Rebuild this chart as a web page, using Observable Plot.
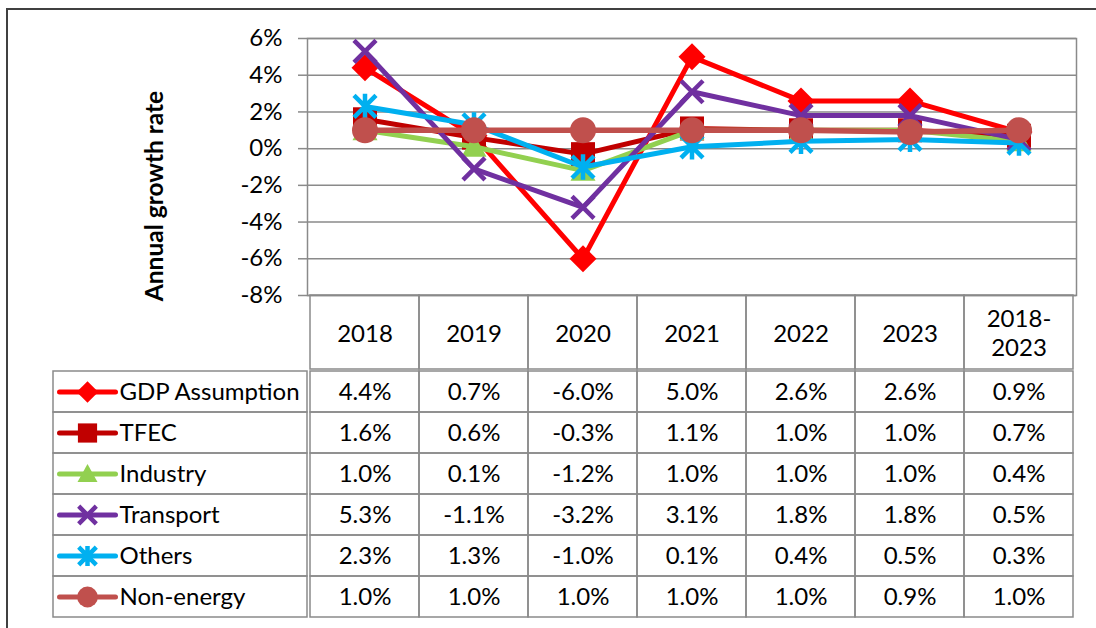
<!DOCTYPE html>
<html><head><meta charset="utf-8">
<script src="https://cdn.jsdelivr.net/npm/d3@7"></script>
<script src="https://cdn.jsdelivr.net/npm/@observablehq/plot@0.6"></script>
<style>
body{margin:0;background:#fff;font-family:Lato,sans-serif;}
#wrap{position:relative;width:1096px;height:628px;overflow:hidden;background:#fff;}
#frame{position:absolute;left:6px;top:8px;width:1200px;height:700px;border-top:2px solid #404040;border-left:2px solid #404040;}
.part{position:absolute;}
.part svg{display:block;}
</style></head><body>
<div id="wrap"><div id="frame"></div></div>
<script>
// ---- data ----
const columns = ["2018","2019","2020","2021","2022","2023","2018-2023"];
const seriesNames = ["GDP Assumption","TFEC","Industry","Transport","Others","Non-energy"];
const gdp       = [4.4, 0.7, -6.0, 5.0, 2.6, 2.6, 0.9];
const tfec      = [1.6, 0.6, -0.3, 1.1, 1.0, 1.0, 0.7];
const industry  = [1.0, 0.1, -1.2, 1.0, 1.0, 1.0, 0.4];
const transport = [5.3, -1.1, -3.2, 3.1, 1.8, 1.8, 0.5];
const others    = [2.3, 1.3, -1.0, 0.1, 0.4, 0.5, 0.3];
const nonEnergy = [1.0, 1.0, 1.0, 1.0, 1.0, 0.9, 1.0];
const yTicks = [-8, -6, -4, -2, 0, 2, 4, 6];
const yTitle = "Annual growth rate";

// ---- styles ----
const colors = ["#FF0000", "#C00000", "#92D050", "#7030A0", "#00B0F0", "#C0504D"];
const R = s => Math.sqrt(s / Math.PI);
const diamondSym = {draw(c, s){const r = R(s); c.moveTo(0,-r); c.lineTo(r,0); c.lineTo(0,r); c.lineTo(-r,0); c.closePath();}};
const squareSym = {draw(c, s){const r = R(s); c.rect(-r,-r,2*r,2*r);}};
const triangleSym = {draw(c, s){const r = R(s); c.moveTo(0,-r); c.lineTo(r,r*0.8); c.lineTo(-r,r*0.8); c.closePath();}};
const timesSym = {draw(c, s){const r = R(s); c.moveTo(-r,-r); c.lineTo(r,r); c.moveTo(r,-r); c.lineTo(-r,r);}};
const starSym = {draw(c, s){const r = R(s); c.moveTo(-r,-r); c.lineTo(r,r); c.moveTo(r,-r); c.lineTo(-r,r); c.moveTo(0,-r*1.15); c.lineTo(0,r*1.15);}};
const circleSym = {draw(c, s){const r = R(s); c.moveTo(r,0); c.arc(0,0,r,0,2*Math.PI);}};
const hlineSym = {draw(c, s){const r = R(s); c.moveTo(-r,0); c.lineTo(r,0);}};
const markers = [
  {sym: diamondSym, r: 13.5, filled: true},
  {sym: squareSym, r: 12, filled: true},
  {sym: triangleSym, r: 12.5, filled: true},
  {sym: timesSym, r: 11, filled: false},
  {sym: starSym, r: 11, filled: false},
  {sym: circleSym, r: 13, filled: true}
];
const lineWidths = [5, 5, 5, 5, 5, 5.5];

const seriesValues = [gdp, tfec, industry, transport, others, nonEnergy];
const rows = [];
seriesValues.forEach((vals, si) => vals.forEach((v, ci) => rows.push({series: seriesNames[si], col: columns[ci], v})));

const font = {fontFamily: "Lato, sans-serif", fontSize: "24px", color: "#000", background: "transparent", overflow: "visible"};
const grid = "#8a8a8a";

function dotOpts(i, extra) {
  const m = markers[i];
  return Object.assign({symbol: m.sym, r: m.r,
    fill: m.filled ? colors[i] : "none",
    stroke: m.filled ? "none" : colors[i],
    strokeWidth: m.filled ? 0 : 4.5, strokeLinecap: "butt"}, extra);
}

// ---- chart ----
const seriesMarks = [];
seriesNames.forEach((name, i) => {
  const d = rows.filter(r => r.series === name);
  seriesMarks.push(Plot.line(d, {x: "col", y: "v", stroke: colors[i], strokeWidth: lineWidths[i], strokeLinejoin: "round"}));
  seriesMarks.push(Plot.dot(d, dotOpts(i, {x: "col", y: "v"})));
});

const chart = Plot.plot({
  width: 1096, height: 295,
  marginTop: 38, marginBottom: 0, marginLeft: 307, marginRight: 20,
  style: font,
  x: {type: "band", domain: columns, padding: 0, axis: null},
  y: {domain: [-8, 6]},
  marks: [
    Plot.gridY(yTicks, {stroke: grid, strokeOpacity: 1, strokeWidth: 1.5}),
    Plot.frame({stroke: grid, strokeWidth: 1.5}),
    Plot.axisY(yTicks, {tickSize: 9, tickPadding: 16, tickFormat: d => d + "%", stroke: grid, strokeWidth: 1.5, fill: "#000", label: null, fontSize: 24}),
    Plot.text([yTitle], {frameAnchor: "left", textAnchor: "middle", rotate: -90, dx: -152, dy: 29, fontWeight: "bold", fontSize: 24.5, fill: "#000"}),
    ...seriesMarks
  ]
});

// ---- table header ----
const header = Plot.plot({
  width: 1096, height: 74,
  marginTop: 0, marginBottom: 0, marginLeft: 307, marginRight: 20,
  style: font,
  x: {type: "band", domain: columns, padding: 0, axis: null},
  marks: [
    Plot.cell(columns, {x: d => d, stroke: grid, strokeWidth: 1.5, fill: "none"}),
    Plot.text(columns, {x: d => d, text: d => d.replace("-", "-\n"), lineHeight: 1.2, fontSize: 24, fill: "#000"})
  ]
});

// ---- table values ----
const values = Plot.plot({
  width: 1096, height: 333,
  marginTop: 74, marginBottom: 10, marginLeft: 307, marginRight: 20,
  style: font,
  x: {type: "band", domain: columns, padding: 0, axis: null},
  y: {type: "band", domain: seriesNames, padding: 0, axis: null},
  marks: [
    Plot.cell(rows, {x: "col", y: "series", stroke: grid, strokeWidth: 1.5, fill: "none"}),
    Plot.text(rows, {x: "col", y: "series", text: d => d.v.toFixed(1) + "%", fontSize: 24, fill: "#000"})
  ]
});

// ---- legend column ----
const legendMarks = [];
seriesNames.forEach((name, i) => {
  legendMarks.push(Plot.dot([name], {y: d => d, frameAnchor: "left", dx: 34, symbol: hlineSym, r: 28, stroke: colors[i], strokeWidth: 5, strokeLinecap: "round", fill: "none"}));
  const m = markers[i];
  legendMarks.push(Plot.dot([name], dotOpts(i, {y: d => d, frameAnchor: "left", dx: 34, r: m.r * 0.8})));
});
const legend = Plot.plot({
  width: 307, height: 333,
  marginTop: 74, marginBottom: 10, marginLeft: 53, marginRight: 0,
  style: font,
  y: {type: "band", domain: seriesNames, padding: 0, axis: null},
  marks: [
    Plot.cell(seriesNames, {y: d => d, stroke: grid, strokeWidth: 1.5, fill: "none"}),
    ...legendMarks,
    Plot.text(seriesNames, {y: d => d, frameAnchor: "left", dx: 66, textAnchor: "start", fontSize: 24, fill: "#000"})
  ]
});

const wrap = document.getElementById("wrap");
function place(el, left, top) {
  const div = document.createElement("div");
  div.className = "part";
  div.style.left = left + "px";
  div.style.top = top + "px";
  div.appendChild(el);
  wrap.appendChild(div);
}
place(chart, 0, 0);
place(header, 0, 295);
place(values, 0, 295);
place(legend, 0, 295);
</script>
</body></html>
